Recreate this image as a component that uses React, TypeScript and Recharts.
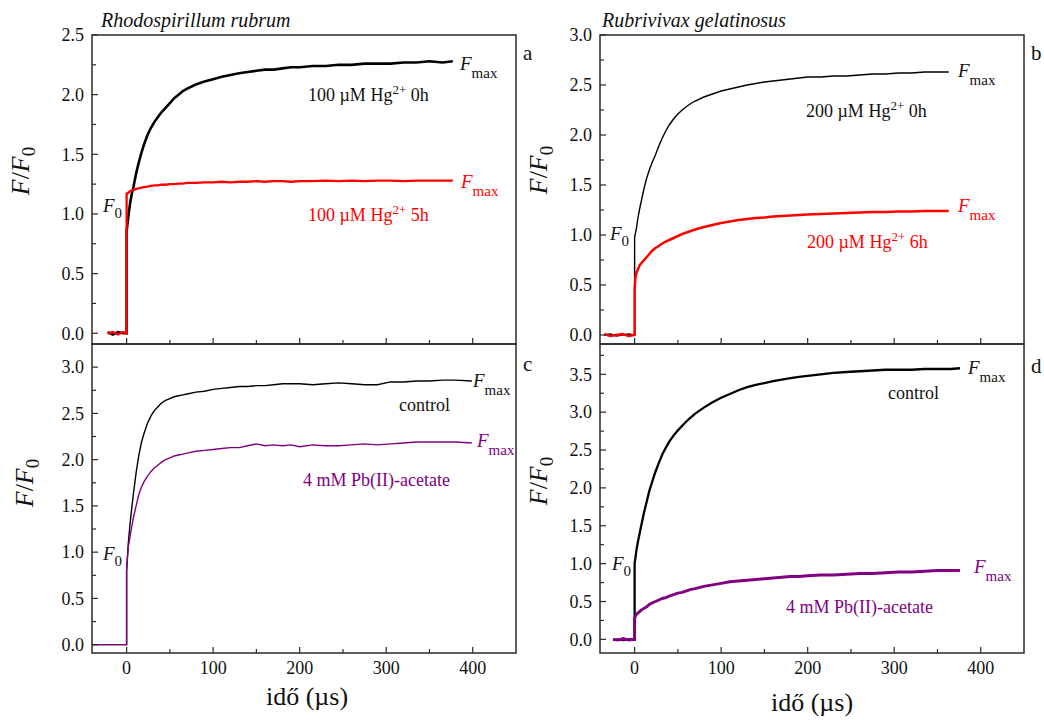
import { LineChart, Line, XAxis, YAxis } from "recharts";

const SERIF = '"Liberation Serif", "Times New Roman", serif';
const INK = "#111111";
const FRAME = "#2a2a2a";
const RED = "#ff0000";
const PURPLE = "#800080";

// time axis (µs) – shared x ticks
const xTicks = [0, 50, 100, 150, 200, 250, 300, 350, 400];

// panel a – Rhodospirillum rubrum, 100 µM Hg2+
const aTime = [-22, -16, -10, -4, 0, 0, 1, 2, 4, 6, 8, 11, 14, 17, 20, 24, 28, 32, 36, 40, 45, 50, 55, 60, 65, 70,
  80, 90, 100, 110, 120, 130, 140, 150, 160, 170, 180, 190, 200, 215, 230, 245, 260, 275, 290, 305, 320, 335, 350, 365, 377];
const aHg0h = [0.01, -0.01, 0.01, 0, 0, 0.85, 0.92, 0.98, 1.09, 1.17, 1.23, 1.34, 1.43, 1.51, 1.58, 1.66, 1.72, 1.77, 1.81, 1.85,
  1.89, 1.93, 1.97, 2.0, 2.03, 2.05, 2.085, 2.11, 2.13, 2.15, 2.165, 2.18, 2.19, 2.2, 2.21, 2.21, 2.22, 2.23, 2.23,
  2.24, 2.24, 2.25, 2.25, 2.26, 2.26, 2.26, 2.27, 2.27, 2.28, 2.27, 2.28];
const aHg5h = [0, 0.01, -0.01, 0.01, 0, 1.17, 1.17, 1.18, 1.19, 1.195, 1.2, 1.21, 1.215, 1.22, 1.225, 1.23, 1.235, 1.24, 1.24, 1.245,
  1.245, 1.25, 1.25, 1.255, 1.255, 1.26, 1.26, 1.265, 1.265, 1.27, 1.265, 1.27, 1.27, 1.275, 1.27, 1.275, 1.275, 1.27, 1.275,
  1.275, 1.28, 1.275, 1.28, 1.275, 1.28, 1.28, 1.275, 1.28, 1.28, 1.28, 1.28];

// panel b – Rubrivivax gelatinosus, 200 µM Hg2+
const bTime = [-35, -28, -21, -14, -7, 0, 0, 1, 2, 4, 6, 8, 11, 14, 17, 20, 24, 28, 32, 36, 40, 45, 50, 55, 60, 65, 70,
  80, 90, 100, 110, 120, 130, 140, 150, 160, 170, 180, 190, 200, 215, 230, 245, 260, 275, 290, 305, 320, 335, 350, 363];
const bHg0h = [0, 0.01, -0.01, 0, 0.01, 0, 0.98, 1.02, 1.06, 1.18, 1.27, 1.35, 1.47, 1.57, 1.65, 1.72, 1.8, 1.89, 1.97, 2.04, 2.1,
  2.16, 2.21, 2.25, 2.285, 2.315, 2.34, 2.38, 2.41, 2.44, 2.46, 2.48, 2.5, 2.515, 2.53, 2.54, 2.55, 2.56, 2.57, 2.58,
  2.58, 2.59, 2.59, 2.6, 2.61, 2.61, 2.62, 2.62, 2.63, 2.63, 2.63];
const bHg6h = [0.01, -0.01, 0, 0.01, -0.01, 0, 0.45, 0.58, 0.62, 0.66, 0.7, 0.72, 0.75, 0.78, 0.81, 0.84, 0.87, 0.89, 0.915, 0.935, 0.95,
  0.97, 0.99, 1.01, 1.025, 1.04, 1.055, 1.08, 1.1, 1.12, 1.135, 1.15, 1.16, 1.17, 1.175, 1.185, 1.19, 1.195, 1.2, 1.205,
  1.21, 1.215, 1.22, 1.225, 1.23, 1.23, 1.235, 1.235, 1.24, 1.24, 1.24];

// panel c – Rhodospirillum rubrum, Pb(II)-acetate
const cTime = [-40, -30, -20, -10, 0, 0, 1, 2, 4, 6, 8, 11, 14, 17, 20, 24, 28, 32, 36, 40, 45, 50, 55, 60, 65, 70,
  80, 90, 100, 110, 120, 130, 140, 150, 160, 170, 180, 190, 200, 215, 230, 245, 260, 275, 290, 305, 320, 335, 350, 365, 380, 399];
const cControl = [0, 0, 0, 0, 0, 0.8, 0.95, 1.1, 1.31, 1.48, 1.64, 1.86, 2.04, 2.18, 2.28, 2.39, 2.47, 2.53, 2.57, 2.61,
  2.64, 2.66, 2.68, 2.69, 2.7, 2.71, 2.73, 2.74, 2.76, 2.77, 2.78, 2.79, 2.79, 2.8, 2.8, 2.81, 2.82, 2.82, 2.82,
  2.81, 2.82, 2.83, 2.82, 2.81, 2.81, 2.84, 2.84, 2.85, 2.85, 2.86, 2.86, 2.85];
const cPb = [0, 0, 0, 0, 0, 0.8, 0.95, 1.06, 1.17, 1.28, 1.38, 1.5, 1.62, 1.7, 1.76, 1.82, 1.87, 1.91, 1.94, 1.97,
  2.0, 2.02, 2.04, 2.05, 2.06, 2.07, 2.09, 2.1, 2.11, 2.12, 2.13, 2.13, 2.15, 2.17, 2.15, 2.16, 2.15, 2.16, 2.14,
  2.16, 2.15, 2.15, 2.16, 2.17, 2.16, 2.17, 2.18, 2.19, 2.19, 2.19, 2.19, 2.18];

// panel d – Rubrivivax gelatinosus, Pb(II)-acetate
const dTime = [-25, -19, -13, -7, 0, 0, 1, 2, 4, 6, 8, 11, 14, 17, 20, 24, 28, 32, 36, 40, 45, 50, 55, 60, 65, 70,
  80, 90, 100, 110, 120, 130, 140, 150, 160, 170, 180, 190, 200, 215, 230, 245, 260, 275, 290, 305, 320, 335, 350, 365, 376];
const dControl = [-0.01, 0, -0.01, 0, 0, 1.0, 1.08, 1.17, 1.3, 1.41, 1.52, 1.68, 1.82, 1.96, 2.07, 2.21, 2.33, 2.44, 2.53, 2.61,
  2.69, 2.76, 2.82, 2.88, 2.93, 2.98, 3.06, 3.13, 3.19, 3.24, 3.29, 3.33, 3.36, 3.385, 3.41, 3.43, 3.45, 3.465, 3.48,
  3.5, 3.52, 3.53, 3.54, 3.55, 3.56, 3.56, 3.56, 3.57, 3.57, 3.57, 3.58];
const dPb = [0, -0.01, 0.01, -0.01, 0, 0.28, 0.31, 0.33, 0.35, 0.37, 0.39, 0.41, 0.43, 0.46, 0.48, 0.5, 0.52, 0.54, 0.55, 0.57,
  0.59, 0.61, 0.62, 0.64, 0.66, 0.67, 0.7, 0.72, 0.74, 0.76, 0.77, 0.78, 0.79, 0.8, 0.81, 0.82, 0.83, 0.83, 0.84,
  0.85, 0.85, 0.86, 0.87, 0.87, 0.88, 0.89, 0.89, 0.9, 0.91, 0.91, 0.91];

const yTicksA = [0, 0.25, 0.5, 0.75, 1, 1.25, 1.5, 1.75, 2, 2.25, 2.5];
const yTicksB = [0, 0.25, 0.5, 0.75, 1, 1.25, 1.5, 1.75, 2, 2.25, 2.5, 2.75, 3];
const yTicksC = [0, 0.25, 0.5, 0.75, 1, 1.25, 1.5, 1.75, 2, 2.25, 2.5, 2.75, 3];
const yTicksD = [0, 0.25, 0.5, 0.75, 1, 1.25, 1.5, 1.75, 2, 2.25, 2.5, 2.75, 3, 3.25, 3.5, 3.75];

type Series = { time: number[]; values: number[]; color: string; width: number };

const PAD_L = 60;
const PAD_T = 16;
const PAD_R = 6;
const PAD_B = 40;

function YTick(props: any) {
  const { x, y, payload } = props;
  const v = payload.value as number;
  const major = Math.abs(v * 2 - Math.round(v * 2)) < 1e-6;
  return (
    <g>
      <line x1={x} x2={x + (major ? 6 : 4)} y1={y} y2={y} stroke={FRAME} strokeWidth={1.2} />
      {major && (
        <text x={x - 8} y={y} dy="0.35em" textAnchor="end" fontFamily={SERIF} fontSize={18} fill={INK}>
          {v.toFixed(1)}
        </text>
      )}
    </g>
  );
}

function makeXTick(showLabel: boolean) {
  return (props: any) => {
    const { x, y, payload } = props;
    const v = payload.value as number;
    const major = v % 100 === 0;
    return (
      <g>
        <line x1={x} x2={x} y1={y} y2={y - (major ? 6 : 4)} stroke={FRAME} strokeWidth={1.2} />
        {showLabel && major && (
          <text x={x} y={y + 21} textAnchor="middle" fontFamily={SERIF} fontSize={18} fill={INK}>
            {v}
          </text>
        )}
      </g>
    );
  };
}

function Panel(p: {
  left: number; top: number; w: number; h: number;
  yDomain: [number, number]; yTicks: number[]; showX: boolean; series: Series[];
}) {
  return (
    <div style={{ position: "absolute", left: p.left - PAD_L, top: p.top - PAD_T }}>
      <LineChart
        width={PAD_L + p.w + PAD_R}
        height={PAD_T + p.h + PAD_B}
        margin={{ top: PAD_T, right: PAD_R, bottom: 0, left: 0 }}
      >
        <XAxis
          type="number" dataKey="t" domain={[-40, 450]} ticks={xTicks} interval={0}
          allowDataOverflow axisLine={false} tickLine={false} tickSize={0} tickMargin={0}
          height={PAD_B} tick={makeXTick(p.showX)}
        />
        <YAxis
          type="number" domain={p.yDomain} ticks={p.yTicks} interval={0}
          allowDataOverflow axisLine={false} tickLine={false} tickSize={0} tickMargin={0}
          width={PAD_L} tick={YTick}
        />
        {p.series.map((s, i) => (
          <Line
            key={i}
            data={s.time.map((t, j) => ({ t, v: s.values[j] }))}
            dataKey="v" type="linear" stroke={s.color} strokeWidth={s.width}
            dot={false} activeDot={false} isAnimationActive={false}
          />
        ))}
      </LineChart>
    </div>
  );
}

function Fmax({ x, y, color }: { x: number; y: number; color: string }) {
  return (
    <text x={x} y={y} fill={color} fontFamily={SERIF} fontSize={19}>
      <tspan fontStyle="italic">F</tspan>
      <tspan fontSize={15} dy={8}>max</tspan>
    </text>
  );
}

function F0({ x, y }: { x: number; y: number }) {
  return (
    <text x={x} y={y} fill={INK} fontFamily={SERIF} fontSize={19}>
      <tspan fontStyle="italic">F</tspan>
      <tspan fontSize={15} dy={6}>0</tspan>
    </text>
  );
}

function HgLabel({ x, y, conc, hours, color }: { x: number; y: number; conc: string; hours: string; color: string }) {
  return (
    <text x={x} y={y} fill={color} fontFamily={SERIF} fontSize={18}>
      {conc} µM Hg
      <tspan fontSize={13} dy={-7}>2+</tspan>
      <tspan dy={7}> {hours}</tspan>
    </text>
  );
}

function YLabel({ x, y }: { x: number; y: number }) {
  return (
    <text transform={`translate(${x},${y}) rotate(-90)`} textAnchor="middle" fill={INK} fontFamily={SERIF} fontSize={26}>
      <tspan fontStyle="italic">F</tspan>/<tspan fontStyle="italic">F</tspan>
      <tspan fontSize={19} dy={6}>0</tspan>
    </text>
  );
}

const frames = [
  { x: 92, y: 35, w: 424, h: 309 },
  { x: 600, y: 35, w: 424, h: 309 },
  { x: 92, y: 344, w: 424, h: 309 },
  { x: 600, y: 344, w: 424, h: 309 },
];

export default function App() {
  return (
    <div style={{ position: "absolute", left: 0, top: 0, width: 1044, height: 720, background: "#fff", overflow: "hidden" }}>
      <Panel left={92} top={35} w={424} h={309} yDomain={[-0.09, 2.5]} yTicks={yTicksA} showX={false}
        series={[
          { time: aTime, values: aHg0h, color: "#000", width: 2.6 },
          { time: aTime, values: aHg5h, color: RED, width: 2.3 },
        ]} />
      <Panel left={600} top={35} w={424} h={309} yDomain={[-0.09, 3.0]} yTicks={yTicksB} showX={false}
        series={[
          { time: bTime, values: bHg0h, color: "#000", width: 1.4 },
          { time: bTime, values: bHg6h, color: RED, width: 2.5 },
        ]} />
      <Panel left={92} top={344} w={424} h={309} yDomain={[-0.09, 3.25]} yTicks={yTicksC} showX
        series={[
          { time: cTime, values: cControl, color: "#000", width: 1.4 },
          { time: cTime, values: cPb, color: PURPLE, width: 1.4 },
        ]} />
      <Panel left={600} top={344} w={424} h={309} yDomain={[-0.18, 3.9]} yTicks={yTicksD} showX
        series={[
          { time: dTime, values: dControl, color: "#000", width: 2.3 },
          { time: dTime, values: dPb, color: PURPLE, width: 2.9 },
        ]} />

      <svg width={1044} height={720} style={{ position: "absolute", left: 0, top: 0, pointerEvents: "none" }}>
        {frames.map((f, i) => (
          <rect key={i} x={f.x} y={f.y} width={f.w} height={f.h} fill="none" stroke={FRAME} strokeWidth={1.5} />
        ))}

        <text x={101} y={27} fontFamily={SERIF} fontSize={20} fontStyle="italic" fill={INK}>Rhodospirillum rubrum</text>
        <text x={602} y={27} fontFamily={SERIF} fontSize={20} fontStyle="italic" fill={INK}>Rubrivivax gelatinosus</text>

        <text x={523} y={60} fontFamily={SERIF} fontSize={21} fill={INK}>a</text>
        <text x={1031} y={60} fontFamily={SERIF} fontSize={21} fill={INK}>b</text>
        <text x={523} y={371} fontFamily={SERIF} fontSize={21} fill={INK}>c</text>
        <text x={1031} y={373} fontFamily={SERIF} fontSize={21} fill={INK}>d</text>

        <YLabel x={29} y={171} />
        <YLabel x={547} y={170} />
        <YLabel x={33} y={483} />
        <YLabel x={547} y={481} />

        <text x={307} y={705} textAnchor="middle" fontFamily={SERIF} fontSize={26} fill={INK}>idő (µs)</text>
        <text x={812} y={711} textAnchor="middle" fontFamily={SERIF} fontSize={26} fill={INK}>idő (µs)</text>

        {/* panel a */}
        <Fmax x={460} y={70} color={INK} />
        <HgLabel x={308} y={101} conc="100" hours="0h" color={INK} />
        <Fmax x={461} y={188} color={RED} />
        <HgLabel x={308} y={221} conc="100" hours="5h" color={RED} />
        <F0 x={103} y={212} />

        {/* panel b */}
        <Fmax x={958} y={77} color={INK} />
        <HgLabel x={806} y={117} conc="200" hours="0h" color={INK} />
        <Fmax x={958} y={212} color={RED} />
        <HgLabel x={807} y={248} conc="200" hours="6h" color={RED} />
        <F0 x={610} y={240} />

        {/* panel c */}
        <Fmax x={473} y={387} color={INK} />
        <text x={399} y={411} fontFamily={SERIF} fontSize={18} fill={INK}>control</text>
        <Fmax x={477} y={447} color={PURPLE} />
        <text x={303} y={486} fontFamily={SERIF} fontSize={18} fill={PURPLE}>4 mM Pb(II)-acetate</text>
        <F0 x={103} y={560} />

        {/* panel d */}
        <Fmax x={968} y={374} color={INK} />
        <text x={888} y={399} fontFamily={SERIF} fontSize={18} fill={INK}>control</text>
        <Fmax x={974} y={573} color={PURPLE} />
        <text x={786} y={613} fontFamily={SERIF} fontSize={18} fill={PURPLE}>4 mM Pb(II)-acetate</text>
        <F0 x={612} y={570} />
      </svg>
    </div>
  );
}
